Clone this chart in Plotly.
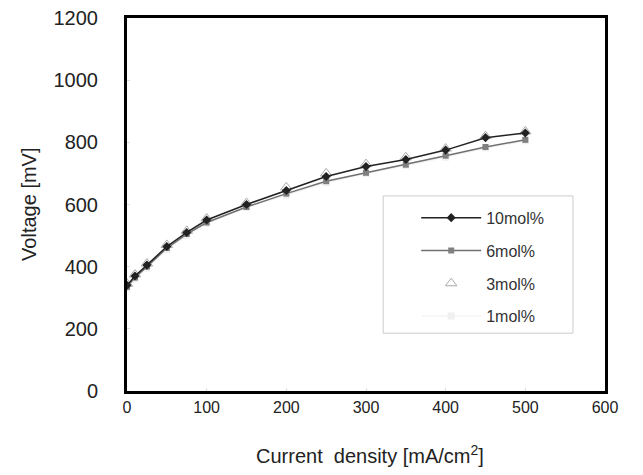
import plotly.graph_objects as go

# current density [mA/cm2]
current = [0, 10, 25, 50, 75, 100, 150, 200, 250, 300, 350, 400, 450, 500]

# voltage [mV] per concentration
v_10mol = [340, 370, 405, 465, 510, 550, 600, 645, 690, 722, 745, 775, 815, 830]
v_6mol = [335, 365, 400, 460, 505, 542, 592, 635, 675, 702, 728, 757, 785, 808]
v_3mol = [345, 375, 410, 470, 515, 555, 605, 655, 700, 730, 752, 780, 820, 835]
v_1mol = [330, 360, 395, 455, 500, 540, 590, 630, 670, 700, 725, 752, 782, 805]

x_ticks = [0, 100, 200, 300, 400, 500, 600]
y_ticks = [0, 200, 400, 600, 800, 1000, 1200]

fig = go.Figure()

fig.add_trace(go.Scatter(
    x=current, y=v_1mol, mode='lines+markers', name='1mol%',
    legendgroup='d', legendrank=4,
    line=dict(color='#f4f4f4', width=1.5),
    marker=dict(symbol='square', size=7, color='#f0f0f0')
))
fig.add_trace(go.Scatter(
    x=current, y=v_3mol, mode='lines+markers', name='3mol%',
    legendgroup='c', legendrank=3,
    line=dict(color='#ffffff', width=1.5),
    marker=dict(symbol='triangle-up', size=10, color='white',
                line=dict(color='#aaaaaa', width=1))
))
fig.add_trace(go.Scatter(
    x=current, y=v_6mol, mode='lines+markers', name='6mol%',
    legendgroup='b', legendrank=2,
    line=dict(color='#707070', width=1.5),
    marker=dict(symbol='square', size=6, color='#808080')
))
fig.add_trace(go.Scatter(
    x=current, y=v_10mol, mode='lines+markers', name='10mol%',
    legendgroup='a', legendrank=1,
    line=dict(color='#222222', width=1.5),
    marker=dict(symbol='diamond', size=7, color='#222222')
))

# legend frame (the legend itself sits inset inside it)
fig.add_shape(type='rect', xref='paper', yref='paper',
              x0=0.536, x1=0.933, y0=0.155, y1=0.523,
              line=dict(color='#cccccc', width=1))

# axis titles
fig.add_annotation(text='Current  density [mA/cm<sup>2</sup>]',
                   xref='paper', yref='paper', x=0.508, y=-0.17,
                   xanchor='center', yanchor='middle', showarrow=False,
                   font=dict(size=20, color='#222222'))
fig.add_annotation(text='Voltage [mV]',
                   xref='paper', yref='paper', x=-0.205, y=0.499,
                   xanchor='center', yanchor='middle', showarrow=False,
                   textangle=-90, font=dict(size=20, color='#222222'))

fig.update_layout(
    width=643, height=475,
    margin=dict(l=119, r=46, t=10, b=92),
    plot_bgcolor='white', paper_bgcolor='white',
    font=dict(family='Liberation Sans, Arial, sans-serif', color='#222222'),
    showlegend=True,
    legend=dict(
        x=0.605, y=0.51, xanchor='left', yanchor='top',
        traceorder='grouped', tracegroupgap=9,
        bgcolor='rgba(0,0,0,0)', borderwidth=0,
        font=dict(size=16, color='#333333'),
        itemwidth=60,
    ),
    xaxis=dict(
        range=[0, 600], tickvals=x_ticks,
        showgrid=False, zeroline=False,
        showline=True, linecolor='black', linewidth=3, mirror=True,
        ticks='inside', ticklen=3, tickcolor='#dddddd',
        tickfont=dict(size=16),
        ticklabeloverflow='allow',
        automargin=False,
    ),
    yaxis=dict(
        range=[0, 1200], tickvals=y_ticks,
        showgrid=False, zeroline=False,
        showline=True, linecolor='black', linewidth=3, mirror=True,
        ticks='inside', ticklen=3, tickcolor='#dddddd',
        tickfont=dict(size=20),
        ticklabelstandoff=22,
        ticklabeloverflow='allow',
        automargin=False,
    ),
)

fig.write_html("out.html")
